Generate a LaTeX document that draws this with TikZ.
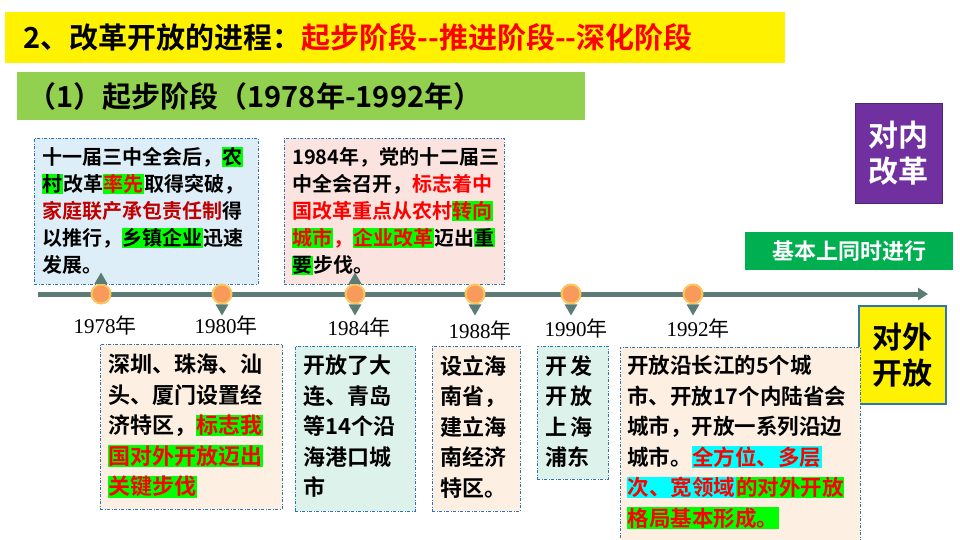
\documentclass[tikz,border=0pt]{standalone}
\usepackage{fontspec}
\setmainfont{Noto Sans CJK SC}[BoldFont={Noto Sans CJK SC Bold}]
\newfontfamily\yrfont{Liberation Serif}
\usetikzlibrary{arrows.meta,shapes.geometric}
\definecolor{hlg}{HTML}{00FF00}
\definecolor{hlc}{HTML}{00FFFF}
\definecolor{tred}{HTML}{FF0000}
\definecolor{dred}{HTML}{C00000}
\definecolor{lineg}{HTML}{5B7C74}
\definecolor{bord}{HTML}{2E75B6}
\definecolor{fblue}{HTML}{DEEEF8}
\definecolor{fpink}{HTML}{FBE4DF}
\definecolor{fcream}{HTML}{FDF0E2}
\definecolor{fmint}{HTML}{DCF2EA}
\definecolor{dotc}{HTML}{F79A5A}
\definecolor{dotb}{HTML}{F9C660}
\definecolor{subg}{HTML}{92D050}
\definecolor{purp}{HTML}{7030A0}
\definecolor{tg}{HTML}{00B050}
\newcommand\hl[2]{{\setlength\fboxsep{0.5pt}\colorbox{#1}{#2}}}
\newcommand\rd[1]{\textcolor{tred}{#1}}
\begin{document}
\begin{tikzpicture}[x=1pt,y=-1pt,
  card/.style={draw=bord,line width=0.8pt,dash pattern=on 3pt off 1.5pt on 1pt off 1.5pt,anchor=north west,inner sep=0pt},
  up/.style={align=left,anchor=north west,inner sep=0pt,font=\bfseries\fontsize{20}{27}\selectfont},
  low/.style={align=left,anchor=north west,inner sep=0pt,font=\bfseries\fontsize{22}{30.5}\selectfont},
  dot/.style={circle,fill=dotc,draw=dotb,line width=2pt,minimum size=19pt,inner sep=0pt},
  tri/.style={regular polygon,regular polygon sides=3,fill=lineg,minimum size=15pt,inner sep=0pt},
  trid/.style={tri,shape border rotate=180},
  yr/.style={font=\yrfont\fontsize{21}{21}\selectfont}]
\useasboundingbox (0,0) rectangle (960,540);
\fill[white] (0,0) rectangle (960,540);
% titles
\node[fill=yellow,minimum width=780pt,minimum height=51pt,anchor=north west,inner sep=0pt] (tbar) at (5,12) {};
\node[anchor=west,font=\bfseries\fontsize{29}{29}\selectfont] (title) at (20,37) {2、改革开放的进程：\rd{起步阶段-{}-推进阶段-{}-深化阶段}};
\node[fill=subg,minimum width=568pt,minimum height=48pt,anchor=north west,inner sep=0pt] (sbar) at (17,72) {};
\node[anchor=west,font=\bfseries\fontsize{29}{29}\selectfont] (sub) at (24,96) {（1）起步阶段（1978年-1992年）};
% right labels
\node[fill=purp,draw={rgb,255:red,70;green,40;blue,120},minimum width=87pt,minimum height=100pt,text=white,align=center,font=\bfseries\fontsize{30}{36}\selectfont,anchor=north west,inner sep=0pt] (nei) at (855,103) {对内\\改革};
\node[fill=tg,minimum width=208pt,minimum height=38pt,text=white,font=\bfseries\fontsize{22}{22}\selectfont,anchor=north west,inner sep=0pt] (tong) at (745,232) {基本上同时进行};
\node[fill=yellow,draw=bord,line width=1.5pt,minimum width=87pt,minimum height=98pt,align=center,font=\bfseries\fontsize{30}{36}\selectfont,anchor=north west,inner sep=0pt] (wai) at (858,305) {对外\\开放};
% timeline
\coordinate (ts) at (38,294);
\coordinate (te) at (928,294);
\draw[lineg,line width=5pt,-{Triangle[length=10pt,width=12pt]}] (ts) -- (te);
% upper cards
\node[card,fill=fblue,minimum width=224pt,minimum height=146pt] (c1) at (34,138) {};
\node[card,fill=fpink,minimum width=220pt,minimum height=146pt] (c2) at (284,138) {};
\node[up] (t1) at (42,147) {十一届三中全会后，\hl{hlg}{农}\\
\hl{hlg}{村}改革\hl{hlg}{\rd{率先}}取得突破，\\
\textcolor{dred}{家庭联产承包责任制}得\\
以推行，\hl{hlg}{乡镇企业}迅速\\
发展。};
\node[up] (t2) at (292,147) {1984年，党的十二届三\\
中全会召开，\rd{标志着中}\\
\rd{国改革重点从农村}\hl{hlg}{\rd{转向}}\\
\hl{hlg}{\rd{城市}}\rd{，}\hl{hlg}{\rd{企业改革}}迈出\hl{hlg}{重}\\
\hl{hlg}{要}步伐。};
% dots & triangles
\foreach \n/\x in {a/101,b/222,c/355,d/475,e/571,f/693}{
  \node[dot] (d\n) at (\x,294) {};
}
\node[tri] (ua) at (101,280) {};
\node[tri] (uc) at (355,280) {};
\foreach \n/\x in {b/222,c/355,d/475,e/571,f/693}{
  \node[trid] (l\n) at (\x,308) {};
}
\node[yr] (ya) at (105,325) {1978{\normalfont 年}};
\node[yr] (yb) at (226,325) {1980{\normalfont 年}};
\node[yr] (yc) at (359,327) {1984{\normalfont 年}};
\node[yr] (yd) at (480,330) {1988{\normalfont 年}};
\node[yr] (ye) at (576,328) {1990{\normalfont 年}};
\node[yr] (yf) at (698,328) {1992{\normalfont 年}};
% lower cards
\node[card,fill=fcream,minimum width=182pt,minimum height=165pt] (c3) at (100,344) {};
\node[card,fill=fmint,minimum width=120pt,minimum height=165pt] (c4) at (295,346) {};
\node[card,fill=fcream,minimum width=88pt,minimum height=165pt] (c5) at (432,346) {};
\node[card,fill=fmint,minimum width=71pt,minimum height=133pt] (c6) at (537,346) {};
\node[card,fill=fcream,minimum width=240pt,minimum height=200pt] (c7) at (620,347) {};
\node[low] (t3) at (108,354) {深圳、珠海、汕\\
头、厦门设置经\\
济特区，\hl{hlg}{\rd{标志我}}\\
\hl{hlg}{\rd{国对外开放迈出}}\\
\hl{hlg}{\rd{关键步伐}}};
\node[low] (t4) at (303,355) {开放了大\\连、青岛\\等14个沿\\海港口城\\市};
\node[low] (t5) at (440,355) {设立海\\南省，\\建立海\\南经济\\特区。};
\node[low] (t6) at (545,355) {开\,发\\开\,放\\上\,海\\浦东};
\node[low,font=\bfseries\fontsize{21.5}{30.5}\selectfont] (t7) at (627,355) {开放沿长江的5个城\\
市、开放17个内陆省会\\
城市，开放一系列沿边\\
城市。\hl{hlc}{\rd{全方位、多层}}\\
\hl{hlc}{\rd{次、宽领域}}\hl{hlg}{\rd{的对外开放}}\\
\hl{hlg}{\rd{格局基本形成。}}};
\end{tikzpicture}
\end{document}
